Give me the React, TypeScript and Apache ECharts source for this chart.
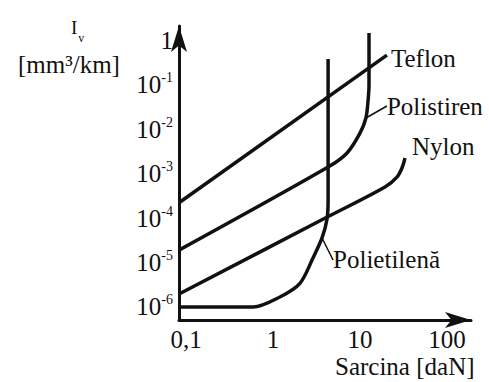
import React, { useEffect, useRef } from 'react';
import * as echarts from 'echarts';

// Axis extents (log scale)
const xMin = 0.083;
const xMax = 189;
const yMin = 5.1e-7;
const yMax = 2.07;

// Tick labels
const xTickValues = [0.1, 1, 10, 100];
const xTickLabels = ['0,1', '1', '10', '100'];

// Series values [Sarcina daN, Iv mm3/km]
const teflon: [number, number][] = [
  [0.083, 2.2e-4],
  [20.4, 0.46],
];
const polistiren: [number, number][] = [
  [0.083, 1.9e-5],
  [4.3, 1.4e-3],
  [7.1, 2.9e-3],
  [10, 8.1e-3],
  [11.7, 0.0177],
  [12.4, 0.045],
  [12.7, 0.1],
  [12.7, 1.44],
];
const nylon: [number, number][] = [
  [0.083, 1.96e-6],
  [4.2, 1.05e-4],
  [19.4, 4.98e-4],
  [26.6, 8.3e-4],
  [30.4, 1.33e-3],
  [32.9, 2.23e-3],
];
const polietilena: [number, number][] = [
  [0.083, 1.0e-6],
  [0.59, 1.0e-6],
  [1.2, 1.68e-6],
  [2.04, 3.4e-6],
  [2.88, 1.26e-5],
  [3.66, 3.56e-5],
  [4.18, 9.5e-5],
  [4.3, 2.5e-4],
  [4.3, 0.374],
];

const seriesNames = ['Teflon', 'Polistiren', 'Nylon', 'Polietilenă'];
const seriesData = [teflon, polistiren, nylon, polietilena];
const labelIndex = [1, 4, 5, 5];

const FONT = 'Liberation Serif';
const INK = '#111111';

function isPow10(v: number) {
  const l = Math.log10(v);
  return Math.abs(l - Math.round(l)) < 1e-6;
}

export default function App() {
  const ref = useRef<HTMLDivElement>(null);
  useEffect(() => {
    if (!ref.current) return;
    const chart = echarts.init(ref.current, undefined, { renderer: 'svg' });

    const labelCfg: any[] = [
      { position: 'right', distance: 4, offset: [0, 3] },
      { position: 'right', distance: 5 },
      { position: 'right', distance: 5, offset: [2, -12] },
      { position: 'right', distance: 5 },
    ];
    const layouts: any[] = [undefined, { dx: 16, dy: -12 }, undefined, { dx: 6, dy: 22 }];
    const leaders = [false, true, false, true];

    const series = seriesData.map((d, si) => ({
      type: 'line',
      name: seriesNames[si],
      smooth: si === 0 ? false : 0.3,
      showSymbol: true,
      showAllSymbol: true,
      symbol: 'circle',
      symbolSize: 0.1,
      itemStyle: { color: INK },
      lineStyle: { color: INK, width: 3.5 },
      labelLayout: layouts[si],
      labelLine: { show: leaders[si], lineStyle: { color: INK, width: 1.5 } },
      data: d.map((p, i) =>
        i === labelIndex[si]
          ? {
              value: p,
              label: {
                show: true,
                formatter: seriesNames[si],
                fontFamily: FONT,
                fontSize: 25,
                color: INK,
                ...labelCfg[si],
              },
            }
          : { value: p, label: { show: false } }
      ),
    }));

    chart.setOption({
      animation: false,
      backgroundColor: '#ffffff',
      grid: { left: 179, right: 18, top: 26, bottom: 62, containLabel: false },
      xAxis: {
        type: 'log',
        logBase: 10,
        min: xMin,
        max: xMax,
        axisLine: {
          show: true,
          lineStyle: { color: INK, width: 3 },
          symbol: ['none', 'arrow'],
          symbolSize: [12, 26],
        },
        axisTick: { show: false },
        splitLine: { show: false },
        axisLabel: {
          margin: 7,
          fontFamily: FONT,
          fontSize: 25,
          lineHeight: 25,
          color: INK,
          formatter: (v: number) => {
            const i = xTickValues.findIndex((t) => Math.abs(Math.log10(t) - Math.log10(v)) < 1e-6);
            return i >= 0 ? xTickLabels[i] : '';
          },
        },
      },
      yAxis: {
        type: 'log',
        logBase: 10,
        min: yMin,
        max: yMax,
        axisLine: {
          show: true,
          lineStyle: { color: INK, width: 3 },
          symbol: ['none', 'arrow'],
          symbolSize: [12, 26],
        },
        axisTick: { show: false },
        splitLine: { show: false },
        axisLabel: {
          margin: 6,
          color: INK,
          formatter: (v: number) => {
            if (!isPow10(v)) return '';
            const e = Math.round(Math.log10(v));
            if (e === 0) return '{b|1}';
            return '{b|10}{s|-' + Math.abs(e) + '}';
          },
          rich: {
            b: { fontFamily: FONT, fontSize: 25, color: INK, lineHeight: 28 },
            s: { fontFamily: FONT, fontSize: 14, color: INK, verticalAlign: 'top', lineHeight: 10 },
          },
        },
      },
      graphic: [
        {
          type: 'text',
          left: 71,
          top: 18,
          style: {
            text: '{i|I}{v|v}',
            rich: {
              i: { fontFamily: FONT, fontSize: 19, fill: INK, lineHeight: 20 },
              v: { fontFamily: FONT, fontSize: 12, fill: INK, verticalAlign: 'bottom', lineHeight: 10, padding: [0, 0, -6, 1] },
            },
          },
        },
        {
          type: 'text',
          left: 18,
          top: 52,
          style: { text: '[mm³/km]', fontFamily: FONT, fontSize: 25, fill: INK },
        },
        {
          type: 'text',
          left: 335,
          top: 354,
          style: { text: 'Sarcina [daN]', fontFamily: FONT, fontSize: 25, lineHeight: 25, fill: INK },
        },
      ],
      series,
    });
    return () => chart.dispose();
  }, []);
  return (
    <div
      ref={ref}
      style={{ position: 'fixed', left: 0, top: 0, width: 489, height: 382, background: '#fff' }}
    />
  );
}
